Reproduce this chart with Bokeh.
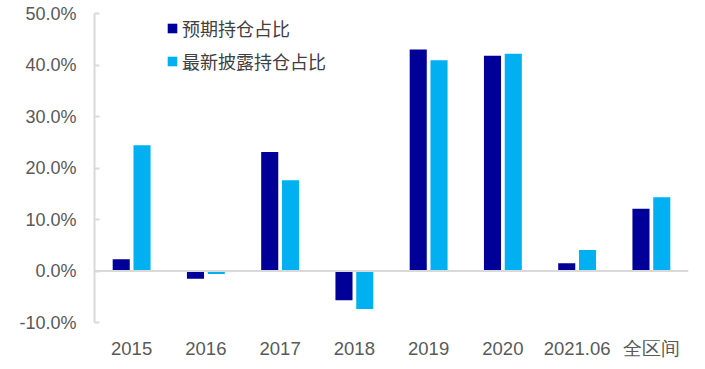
from bokeh.plotting import figure
from bokeh.models import FactorRange, FixedTicker, PrintfTickFormatter, Span, Legend, LegendItem, ColumnDataSource
from bokeh.transform import dodge
from bokeh.embed import file_html
from bokeh.resources import INLINE

categories = ["2015", "2016", "2017", "2018", "2019", "2020", "2021.06", "全区间"]
expected = [2.3, -1.5, 23.1, -5.7, 43.0, 41.8, 1.5, 12.1]
disclosed = [24.4, -0.6, 17.6, -7.4, 40.9, 42.2, 4.1, 14.3]
series_names = ["预期持仓占比", "最新披露持仓占比"]
y_ticks = [-10, 0, 10, 20, 30, 40, 50]

src = ColumnDataSource(dict(cat=categories, a=expected, b=disclosed))

p = figure(width=698, height=361, x_range=FactorRange(*categories), y_range=(-10, 50),
           output_backend="svg", toolbar_location=None,
           min_border_left=94, min_border_right=10, min_border_top=13, min_border_bottom=36)
p.outline_line_color = None
p.xgrid.grid_line_color = None
p.ygrid.grid_line_color = None

r1 = p.vbar(x=dodge("cat", -0.14, range=p.x_range), top="a", width=0.23, source=src,
            fill_color="#000099", line_color=None)
r2 = p.vbar(x=dodge("cat", 0.14, range=p.x_range), top="b", width=0.23, source=src,
            fill_color="#00B0F0", line_color=None)

p.add_layout(Span(location=0, dimension="width", line_color="#D9D9D9", line_width=2))

p.yaxis.ticker = FixedTicker(ticks=y_ticks)
p.yaxis.formatter = PrintfTickFormatter(format="%.1f%%")
p.yaxis.axis_line_color = "#D9D9D9"
p.yaxis.axis_line_width = 2
p.yaxis.major_tick_line_color = "#D9D9D9"
p.yaxis.major_tick_line_width = 2
p.yaxis.major_tick_in = 5
p.yaxis.major_tick_out = 0
p.yaxis.minor_tick_line_color = None
p.yaxis.major_label_standoff = 18
p.yaxis.major_label_text_font = "Liberation Sans"
p.yaxis.major_label_text_font_size = "18px"
p.yaxis.major_label_text_color = "#595959"

p.xaxis.axis_line_color = None
p.xaxis.major_tick_line_color = None
p.xaxis.minor_tick_line_color = None
p.xaxis.major_label_standoff = 9
p.xaxis.major_label_text_font = "Liberation Sans"
p.xaxis.major_label_text_font_size = "18.5px"
p.xaxis.major_label_text_color = "#595959"

legend = Legend(items=[LegendItem(label=series_names[0], renderers=[r1]),
                       LegendItem(label=series_names[1], renderers=[r2])],
                location=(72, 247))
legend.margin = 0
legend.padding = 0
legend.border_line_color = None
legend.background_fill_alpha = 0
legend.glyph_width = 12
legend.glyph_height = 12
legend.label_height = 28
legend.spacing = 5
legend.label_standoff = 4
legend.label_text_font = "Noto Sans CJK SC"
legend.label_text_font_size = "18px"
legend.label_text_color = "#404040"
p.add_layout(legend)

open("out.html", "w").write(file_html(p, INLINE))
